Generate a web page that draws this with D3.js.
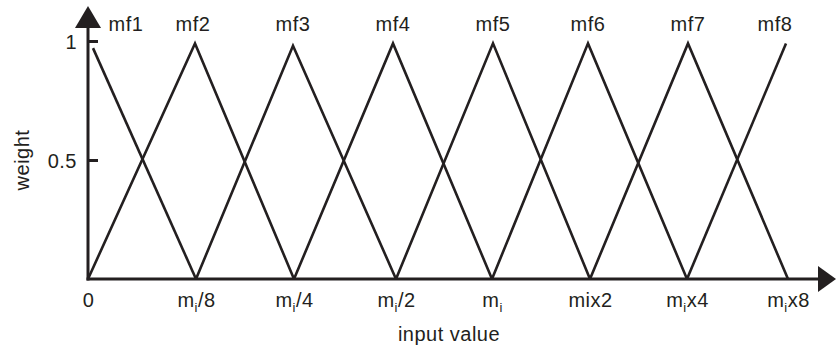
<!DOCTYPE html>
<html>
<head>
<meta charset="utf-8">
<script src="https://cdn.jsdelivr.net/npm/d3@7"></script>
<style>
  body { margin: 0; background: #fff; }
  text { font-family: "Liberation Sans", Arial, sans-serif; fill: #231f20; letter-spacing: 0.5px; }
</style>
</head>
<body>
<div id="chart_container"></div>
<script>
// chart dimensions
const W = 837;
const H = 348;
const INK = "#231f20";
const FONT = "20px";

// x tick labels (m with optional subscript i, then the rest)
const tickBase = ["0", "m", "m", "m", "m", "mix2", "m", "m"];
const tickSub = ["", "i", "i", "i", "i", "", "i", "i"];
const tickRest = ["", "/8", "/4", "/2", "", "", "x4", "x8"];
// where each tick sits on the input axis
const tickX = [0, 1.08, 2.06, 3.08, 4.04, 5.02, 5.99, 7];

// membership functions
const mfNames = ["mf1", "mf2", "mf3", "mf4", "mf5", "mf6", "mf7", "mf8"];
const peakX = [0.05, 1.07, 2.05, 3.05, 4.05, 5.0, 6.0, 6.98];
const peakW = [0.97, 0.99, 0.98, 0.99, 0.99, 0.99, 0.99, 0.99];
const mfLabelX = [0.38, 1.05, 2.05, 3.05, 4.05, 5.0, 6.0, 6.87];

// y ticks
const yTicks = [0.5, 1];

const svg = d3
  .select("#chart_container")
  .append("svg")
  .attr("width", W)
  .attr("height", H);

const x = d3.scaleLinear().domain([0, 7]).range([88, 788]);
const y = d3.scaleLinear().domain([0, 1]).range([279, 41]);

// build the triangle for each mf: left foot, peak, right foot
const mfData = mfNames.map((name, i) => {
  const pts = [];
  if (i > 0) pts.push([tickX[i - 1], 0]);
  pts.push([peakX[i], peakW[i]]);
  if (i < mfNames.length - 1) pts.push([tickX[i + 1], 0]);
  return { name, pts };
});

const line = d3
  .line()
  .x((d) => x(d[0]))
  .y((d) => y(d[1]));

svg
  .append("g")
  .selectAll("path")
  .data(mfData)
  .enter()
  .append("path")
  .attr("d", (d) => line(d.pts))
  .attr("fill", "none")
  .attr("stroke", INK)
  .attr("stroke-width", 2.6)
  .attr("stroke-linejoin", "miter");

// mf labels
svg
  .append("g")
  .selectAll("text")
  .data(mfNames)
  .enter()
  .append("text")
  .attr("x", (d, i) => x(mfLabelX[i]))
  .attr("y", 31)
  .attr("text-anchor", "middle")
  .style("font-size", FONT)
  .text((d) => d);

// y axis (ticks point inward)
const yAxis = svg
  .append("g")
  .attr("transform", `translate(${x(0)},0)`)
  .call(d3.axisLeft(y).tickValues(yTicks).tickSize(-10).tickPadding(11).tickFormat(d3.format("")));
yAxis.select(".domain").remove();
yAxis.selectAll("line").attr("stroke", INK).attr("stroke-width", 3);
yAxis
  .selectAll("text")
  .attr("font-family", null)
  .attr("font-size", null)
  .style("font-size", FONT)
  .attr("fill", INK)
  .attr("dy", "0.36em");

// x axis labels with subscript i
const xAxis = svg
  .append("g")
  .attr("transform", `translate(0,${y(0)})`)
  .call(d3.axisBottom(x).tickValues(tickX).tickSize(0).tickPadding(14).tickFormat(""));
xAxis.select(".domain").remove();
xAxis.selectAll("text").each(function (d, i) {
  const t = d3.select(this).style("font-size", FONT).attr("fill", INK);
  t.append("tspan").text(tickBase[i]);
  if (tickSub[i]) {
    t.append("tspan").text(tickSub[i]).style("font-size", "13px").attr("dy", "5");
    t.append("tspan").text(tickRest[i]).attr("dy", "-5");
  }
});
xAxis.attr("font-family", null).attr("font-size", null);
yAxis.attr("font-family", null).attr("font-size", null);

// axis lines with arrow heads
svg
  .append("line")
  .attr("x1", x(0))
  .attr("x2", x(0))
  .attr("y1", y(0) + 1.5)
  .attr("y2", 26)
  .attr("stroke", INK)
  .attr("stroke-width", 3);
svg
  .append("line")
  .attr("x1", x(0) - 1.5)
  .attr("x2", 822)
  .attr("y1", y(0))
  .attr("y2", y(0))
  .attr("stroke", INK)
  .attr("stroke-width", 3);
svg
  .append("path")
  .attr("d", `M${x(0)},6 L${x(0) + 13},28 L${x(0) - 13},28 Z`)
  .attr("fill", INK);
svg
  .append("path")
  .attr("d", `M836,${y(0)} L818,${y(0) - 13} L818,${y(0) + 13} Z`)
  .attr("fill", INK);

// axis titles
svg
  .append("text")
  .attr("x", 449)
  .attr("y", 341)
  .attr("text-anchor", "middle")
  .style("font-size", FONT)
  .text("input value");
svg
  .append("text")
  .attr("transform", "translate(29,160) rotate(-90)")
  .attr("text-anchor", "middle")
  .style("font-size", FONT)
  .text("weight");
</script>
</body>
</html>
